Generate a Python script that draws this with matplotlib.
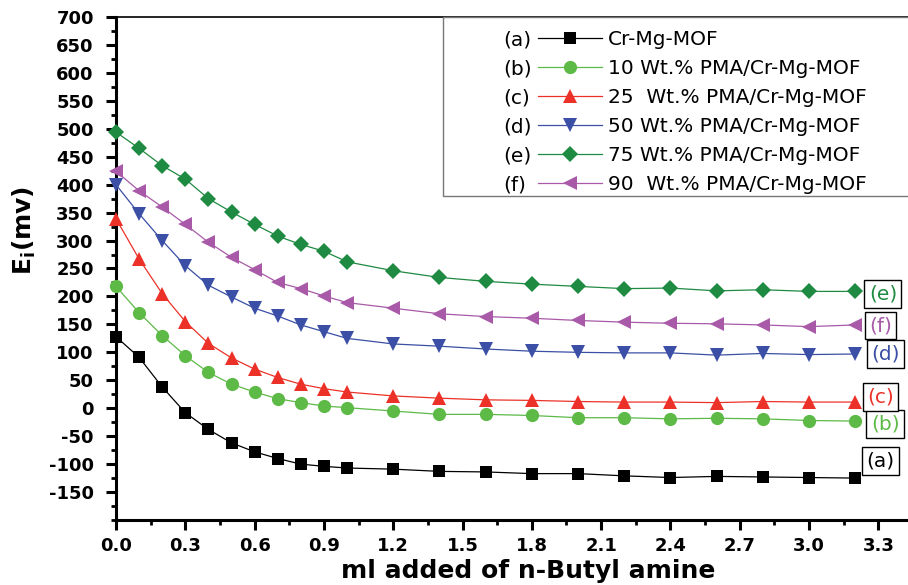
import matplotlib
matplotlib.use("Agg")
import matplotlib.pyplot as plt
from matplotlib.lines import Line2D
from matplotlib.patches import Rectangle
from matplotlib.ticker import MultipleLocator

# the reference uses a horizontally stretched Arial; DejaVu's wider glyphs come closest
plt.rcParams['font.family'] = ['DejaVu Sans']
plt.rcParams['axes.unicode_minus'] = False

# ml of n-butyl amine added
ml_added = [0.0, 0.1, 0.2, 0.3, 0.4, 0.5, 0.6, 0.7, 0.8, 0.9, 1.0,
            1.2, 1.4, 1.6, 1.8, 2.0, 2.2, 2.4, 2.6, 2.8, 3.0, 3.2]

# Ei (mV) for each sample
ei_mof = [128, 91, 38, -8, -38, -62, -78, -90, -100, -104, -107,
          -109, -113, -114, -117, -117, -121, -124, -122, -123, -124, -125]
ei_pma10 = [218, 171, 130, 94, 64, 43, 29, 17, 10, 4, 1,
            -5, -11, -11, -13, -17, -17, -19, -18, -19, -22, -23]
ei_pma25 = [339, 267, 205, 155, 116, 90, 70, 55, 43, 35, 29,
            22, 18, 15, 14, 12, 11, 11, 10, 12, 11, 11]
ei_pma50 = [400, 348, 300, 255, 220, 199, 179, 165, 149, 137, 125,
            115, 111, 106, 102, 100, 99, 99, 95, 98, 96, 97]
ei_pma75 = [494, 465, 434, 410, 375, 351, 329, 308, 293, 281, 262,
            246, 234, 227, 222, 218, 214, 215, 210, 212, 209, 209]
ei_pma90 = [424, 389, 360, 329, 297, 270, 248, 225, 214, 201, 189,
            179, 169, 164, 161, 157, 154, 152, 151, 149, 146, 149]

series_names = ['Cr-Mg-MOF', '10 Wt.% PMA/Cr-Mg-MOF', '25  Wt.% PMA/Cr-Mg-MOF',
                '50 Wt.% PMA/Cr-Mg-MOF', '75 Wt.% PMA/Cr-Mg-MOF',
                '90  Wt.% PMA/Cr-Mg-MOF']
series_tags = ['(a)', '(b)', '(c)', '(d)', '(e)', '(f)']
series_values = [ei_mof, ei_pma10, ei_pma25, ei_pma50, ei_pma75, ei_pma90]

colors = ['#000000', '#5dba47', '#ec3228', '#3a4fa5', '#1f8a41', '#a85aa8']
markers = ['s', 'o', '^', 'v', 'D', '<']
msizes = [8.5, 9.5, 10.5, 10.5, 8.5, 10.5]

# tag boxes at the right end (x, y in data units)
tag_x = [3.31, 3.33, 3.31, 3.33, 3.32, 3.31]
tag_y = [-95, -28, 20, 97, 204, 148]

# the plot frame runs past the right edge of the picture, as in the original
fig = plt.figure(figsize=(9.08, 5.85), dpi=100)
ax_w = 3.5 / 0.3 * 69.3
ax = fig.add_axes([116 / 908, 65 / 585, ax_w / 908, 503 / 585])

handles = []
for vals, c, m, ms, name in zip(series_values, colors, markers, msizes, series_names):
    h, = ax.plot(ml_added, vals, color=c, lw=0.9, marker=m, ms=ms,
                 markeredgewidth=0, label=name, clip_on=False, zorder=3)
    handles.append(h)

ax.set_xlim(0, 3.5)
ax.set_ylim(-200, 700)
ax.xaxis.set_major_locator(MultipleLocator(0.3))
ax.xaxis.set_minor_locator(MultipleLocator(0.15))
ax.yaxis.set_minor_locator(MultipleLocator(25))
ax.set_yticks(range(-150, 701, 50))

for s in ax.spines.values():
    s.set_linewidth(2.2)
ax.spines['top'].set_linewidth(1.2)
ax.tick_params(which='major', direction='out', length=7, width=2.2, pad=5)
ax.tick_params(which='minor', direction='out', length=3.5, width=2.0)
ax.tick_params(axis='y', which='major', pad=9)

for lab in ax.get_yticklabels() + ax.get_xticklabels():
    lab.set_fontsize(13)
    lab.set_fontweight('bold')

ax.set_xlabel('ml added of n-Butyl amine', fontsize=18, fontweight='bold')
ax.xaxis.set_label_coords((528 - 116) / ax_w, (520 - 559) / 503)
ax.set_ylabel(r'E$_\mathregular{i}$(mv)', fontsize=18, fontweight='bold')
ax.yaxis.set_label_coords((38 - 116) / ax_w, (520 - 230) / 503)

# tag boxes
for tx, ty, tag, c in zip(tag_x, tag_y, series_tags, colors):
    ax.text(tx, ty, tag, color=c, fontsize=14.5, ha='center', va='center', zorder=5,
            bbox=dict(boxstyle='square,pad=0.22', fc='white', ec='black', lw=1.0))

# legend: first column holds the tags, second the line samples and names
blank = [Line2D([], [], linestyle='none') for _ in series_tags]
fs = 14.5
fs_px = fs * 100 / 72
hl, htp, bp = 3.2, 0.3, 0.4
x_leg = (503 - 116) / ax_w - (bp + hl + htp) * fs_px / ax_w
leg = ax.legend(blank + handles, series_tags + series_names, ncol=2,
                loc='upper left', bbox_to_anchor=(x_leg, 1 - 5 / 503), borderaxespad=0,
                frameon=False, fontsize=fs, handlelength=hl, handletextpad=htp,
                borderpad=bp, columnspacing=0.3, labelspacing=0.5)
leg.set_zorder(6)
ax.add_patch(Rectangle(((443 - 116) / ax_w, (520 - 196) / 503),
                       0.6, 1 - (520 - 196) / 503, transform=ax.transAxes,
                       fc='white', ec='#777777', lw=1.0, zorder=4, clip_on=False))

fig.savefig('out.png', dpi=100)
